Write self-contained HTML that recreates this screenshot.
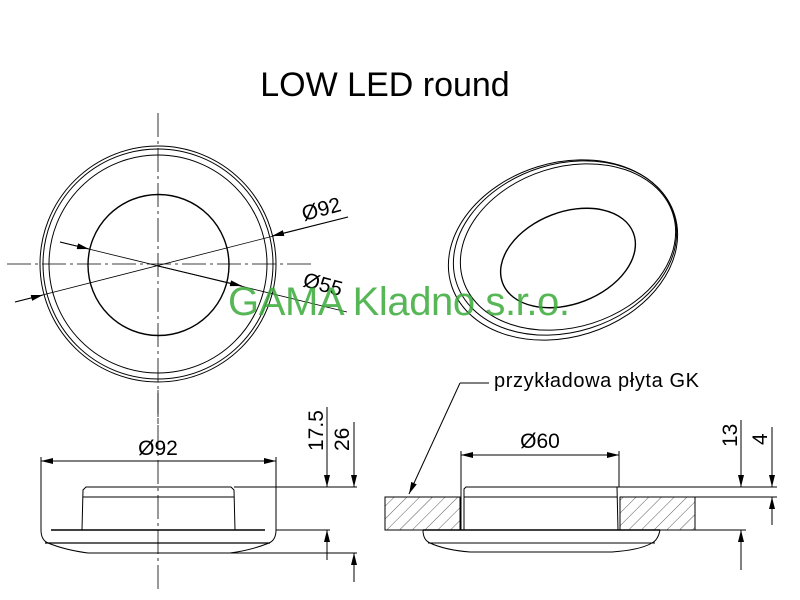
<!DOCTYPE html>
<html><head><meta charset="utf-8"><style>body{margin:0;background:#fff}svg{display:block}</style></head>
<body>
<svg width="800" height="600" viewBox="0 0 800 600" xmlns="http://www.w3.org/2000/svg" font-family="Liberation Sans, sans-serif">
<defs>
<marker id="a" viewBox="0 0 12 6" refX="12" refY="3" markerWidth="12" markerHeight="6" markerUnits="userSpaceOnUse" orient="auto"><path d="M0,0L12,3L0,6z" fill="#000"/></marker>
<pattern id="h" width="9" height="9" patternUnits="userSpaceOnUse" patternTransform="rotate(45)"><line x1="0" y1="0" x2="0" y2="9" stroke="#333" stroke-width="0.8"/></pattern>
</defs>
<text x="385" y="96" font-size="34" text-anchor="middle">LOW LED round</text>
<g fill="none" stroke="#000" stroke-width="1">
<!-- top view -->
<circle cx="158" cy="264" r="118"/><circle cx="158" cy="264" r="115"/><circle cx="158" cy="264" r="109"/>
<circle cx="158.5" cy="265" r="70.5" stroke-width="1.4"/>
<line x1="158" y1="113" x2="158" y2="425" stroke-dasharray="24,4,3,4" stroke-width="0.8"/>
<line x1="7" y1="264" x2="312" y2="264" stroke-dasharray="24,4,3,4" stroke-width="0.8"/>
<line x1="15" y1="302" x2="348" y2="217" stroke-width="0.8"/>
<line x1="15" y1="302" x2="43" y2="295" marker-end="url(#a)"/>
<line x1="348" y1="217" x2="272" y2="236" marker-end="url(#a)"/>
<line x1="60" y1="242" x2="347" y2="312" stroke-width="0.8"/>
<line x1="60" y1="242" x2="89" y2="249" marker-end="url(#a)"/>
<line x1="158" y1="266" x2="242" y2="286" marker-end="url(#a)"/>
<!-- iso -->
<ellipse cx="563" cy="250" rx="117" ry="87" transform="rotate(-17.5 563 250)"/>
<ellipse cx="565" cy="248" rx="114" ry="84" transform="rotate(-17.5 565 248)"/>
<ellipse cx="568" cy="247" rx="110" ry="80" transform="rotate(-17.5 568 247)"/>
<ellipse cx="568" cy="258" rx="70" ry="46" transform="rotate(-21 568 258)" stroke-width="1.4"/>
<!-- left side view -->
<line x1="158" y1="390" x2="158" y2="592" stroke-dasharray="24,4,3,4" stroke-width="0.8"/>
<line x1="41" y1="457" x2="41" y2="530"/><line x1="276" y1="457" x2="276" y2="530"/>
<line x1="41" y1="461" x2="276" y2="461" marker-end="url(#a)"/>
<line x1="276" y1="461" x2="41" y2="461" marker-end="url(#a)"/>
<path d="M82,530 L83,490 L86,487 L231,487 L234,490 L235,530"/>
<line x1="83" y1="497" x2="234" y2="497"/>
<line x1="51" y1="530" x2="265" y2="530" stroke-width="1.4"/>
<path d="M41,530 Q41,540 48,543 Q65,550 88,553 L230,553 Q252,550 269,543 Q276,540 276,530"/>
<line x1="45" y1="543" x2="270" y2="543" stroke-width="1.2"/>
<line x1="234" y1="487" x2="357" y2="487"/><line x1="276" y1="530" x2="330" y2="530"/><line x1="230" y1="553" x2="357" y2="553"/>
<line x1="327" y1="407" x2="327" y2="487" marker-end="url(#a)"/>
<line x1="327" y1="560" x2="327" y2="530" marker-end="url(#a)"/>
<line x1="354" y1="422" x2="354" y2="487" marker-end="url(#a)"/>
<line x1="354" y1="582" x2="354" y2="553" marker-end="url(#a)"/>
<!-- right side view -->
<rect x="385" y="497" width="75" height="33" fill="url(#h)"/>
<rect x="620" y="497" width="75" height="33" fill="url(#h)"/>
<line x1="461" y1="451" x2="461" y2="530"/><line x1="619" y1="451" x2="619" y2="487"/>
<line x1="461" y1="455" x2="619" y2="455" marker-end="url(#a)"/>
<line x1="619" y1="455" x2="461" y2="455" marker-end="url(#a)"/>
<path d="M464,530 L464,489 L466,487 L617,487 L618,530"/>
<line x1="464" y1="497" x2="617" y2="497"/>
<line x1="423" y1="530" x2="660" y2="530" stroke-width="1.4"/>
<path d="M423,530 Q423,540 430,543 Q445,550 470,552 L612,552 Q640,550 652,543 Q658,540 660,530"/>
<line x1="428" y1="543" x2="655" y2="543" stroke-width="1.1"/>
<line x1="617" y1="487" x2="777" y2="487"/><line x1="695" y1="497" x2="777" y2="497"/><line x1="660" y1="530" x2="746" y2="530"/>
<line x1="741" y1="420" x2="741" y2="487" marker-end="url(#a)"/>
<line x1="741" y1="570" x2="741" y2="530" marker-end="url(#a)"/>
<line x1="772" y1="427" x2="772" y2="487" marker-end="url(#a)"/>
<line x1="772" y1="525" x2="772" y2="497" marker-end="url(#a)"/>
<polyline points="489,383 460,383"/>
<line x1="460" y1="383" x2="409" y2="494" marker-end="url(#a)"/>
</g>
<g font-size="21" fill="#000">
<text transform="translate(304,221) rotate(-15)">Ø92</text>
<text transform="translate(302,286) rotate(15)">Ø55</text>
<text x="158" y="455" text-anchor="middle">Ø92</text>
<text x="540" y="448" text-anchor="middle">Ø60</text>
<text transform="translate(323,451) rotate(-90)">17.5</text>
<text transform="translate(349,451) rotate(-90)">26</text>
<text transform="translate(737,447) rotate(-90)">13</text>
<text transform="translate(767,445) rotate(-90)">4</text>
<text x="494" y="387" font-size="20" textLength="205">przykładowa płyta GK</text>
</g>
<text x="228" y="315" font-size="40" fill="#3aaa3a" fill-opacity="0.85" textLength="342">GAMA Kladno s.r.o.</text>
</svg>
</body></html>
